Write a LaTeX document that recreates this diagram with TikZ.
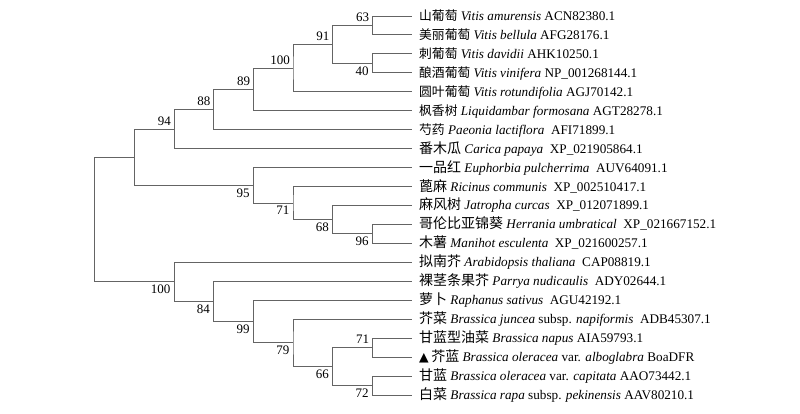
\documentclass[tikz,border=0pt]{standalone}
\usepackage{fontspec}
\setmainfont{Liberation Serif}
\newfontfamily\cjk{Noto Sans CJK SC}
\newfontfamily\symf{DejaVu Sans}
\newcommand\zh[1]{{\cjk\fontsize{14}{15}\selectfont #1}}
\newcommand\zhs[1]{{\cjk\fontsize{12.8}{15}\selectfont #1}}
\usepackage{tikz}
\usetikzlibrary{calc}
\definecolor{branchgray}{RGB}{100,100,100}
\tikzset{
  branch/.style={draw=branchgray, line width=0.9pt},
  leaf/.style={anchor=west, inner xsep=7pt, inner ysep=0pt, text height=12pt, text depth=3pt,
    font=\fontsize{13.2}{15}\selectfont},
  bsup/.style={anchor=south east, inner xsep=3pt, inner ysep=3.5pt},
  bsdown/.style={anchor=north east, inner xsep=3.5pt, inner ysep=3pt}
}

\begin{document}
\begin{tikzpicture}[font=\fontsize{13}{15}\selectfont]
    \useasboundingbox (0,0) rectangle (800pt,-414pt);
    \begin{scope}[shift={(94.7pt,2.95pt)}, x=39.66pt, y=-18.95pt]
        \foreach \i/\txt in {
            1/{\zhs{山葡萄} \textit{Vitis amurensis} ACN82380.1},
            2/{\zhs{美丽葡萄} \textit{Vitis bellula} AFG28176.1},
            3/{\zhs{刺葡萄} \textit{Vitis davidii} AHK10250.1},
            4/{\zhs{酿酒葡萄} \textit{Vitis vinifera} NP\_001268144.1},
            5/{\zhs{圆叶葡萄} \textit{Vitis rotundifolia} AGJ70142.1},
            6/{\zhs{枫香树} \textit{Liquidambar formosana} AGT28278.1},
            7/{\zhs{芍药} \textit{Paeonia lactiflora}\ \ AFI71899.1},
            8/{\zh{番木瓜} \textit{Carica papaya}\ \ XP\_021905864.1},
            9/{\zh{一品红} \textit{Euphorbia pulcherrima}\ \ AUV64091.1},
            10/{\zh{蓖麻} \textit{Ricinus communis}\ \ XP\_002510417.1},
            11/{\zh{麻风树} \textit{Jatropha curcas}\ \ XP\_012071899.1},
            12/{\zh{哥伦比亚锦葵} \textit{Herrania umbratical}\ \ XP\_021667152.1},
            13/{\zh{木薯} \textit{Manihot esculenta}\ \ XP\_021600257.1},
            14/{\zh{拟南芥} \textit{Arabidopsis thaliana}\ \ CAP08819.1},
            15/{\zh{裸茎条果芥} \textit{Parrya nudicaulis}\ \ ADY02644.1},
            16/{\zh{萝卜} \textit{Raphanus sativus}\ \ AGU42192.1},
            17/{\zh{芥菜} \textit{Brassica juncea} subsp. \textit{napiformis}\ \ ADB45307.1},
            18/{\zh{甘蓝型油菜} \textit{Brassica napus} AIA59793.1},
            19/{{\symf\fontsize{12.5}{15}\selectfont ▲}\hspace{2.5pt}\zh{芥蓝} \textit{Brassica oleracea} var. \textit{alboglabra} BoaDFR},
            20/{\zh{甘蓝} \textit{Brassica oleracea} var. \textit{capitata} AAO73442.1},
            21/{\zh{白菜} \textit{Brassica rapa} subsp. \textit{pekinensis} AAV80210.1}}
        \node[leaf] (l\i) at (8,\i) {\txt};

        \coordinate (n63) at (7,1.5);
        \coordinate (n40) at (7,3.5);
        \coordinate (n91) at (6,2.5);
        \coordinate (n100a) at (5,3.75);
        \coordinate (n89) at (4,4.875);
        \coordinate (n88) at (3,5.9375);
        \coordinate (n94) at (2,6.96875);
        \coordinate (n96) at (7,12.5);
        \coordinate (n68) at (6,11.75);
        \coordinate (n71a) at (5,10.875);
        \coordinate (n95) at (4,9.9375);
        \coordinate (nL) at (1,8.453125);
        \coordinate (n72) at (7,20.5);
        \coordinate (n71b) at (7,18.5);
        \coordinate (n66) at (6,19.5);
        \coordinate (n79) at (5,18.25);
        \coordinate (n99) at (4,17.125);
        \coordinate (n84) at (3,16.0625);
        \coordinate (n100b) at (2,15.03125);
        \coordinate (root) at (0,11.7421875);

        \foreach \p/\a/\b in {n63/l1/l2, n40/l3/l4, n91/n63/n40, n100a/n91/l5,
            n89/n100a/l6, n88/n89/l7, n94/n88/l8, n96/l12/l13, n68/l11/n96,
            n71a/l10/n68, n95/l9/n71a, nL/n94/n95, n72/l20/l21, n71b/l18/l19,
            n66/n71b/n72, n79/l17/n66, n99/l16/n79, n84/l15/n99, n100b/l14/n84,
            root/nL/n100b}
        \draw[branch] (\a) -| (\p) |- (\b);

        \foreach \n/\v in {n63/63, n91/91, n100a/100, n89/89, n88/88, n94/94, n71b/71}
        \node[bsup] (b\n) at (\n) {\v};
        \foreach \n/\v in {n40/40, n95/95, n71a/71, n68/68, n96/96, n100b/100,
            n84/84, n99/99, n79/79, n66/66, n72/72}
        \node[bsdown] (b\n) at (\n) {\v};
    \end{scope}
\end{tikzpicture}
\end{document}
